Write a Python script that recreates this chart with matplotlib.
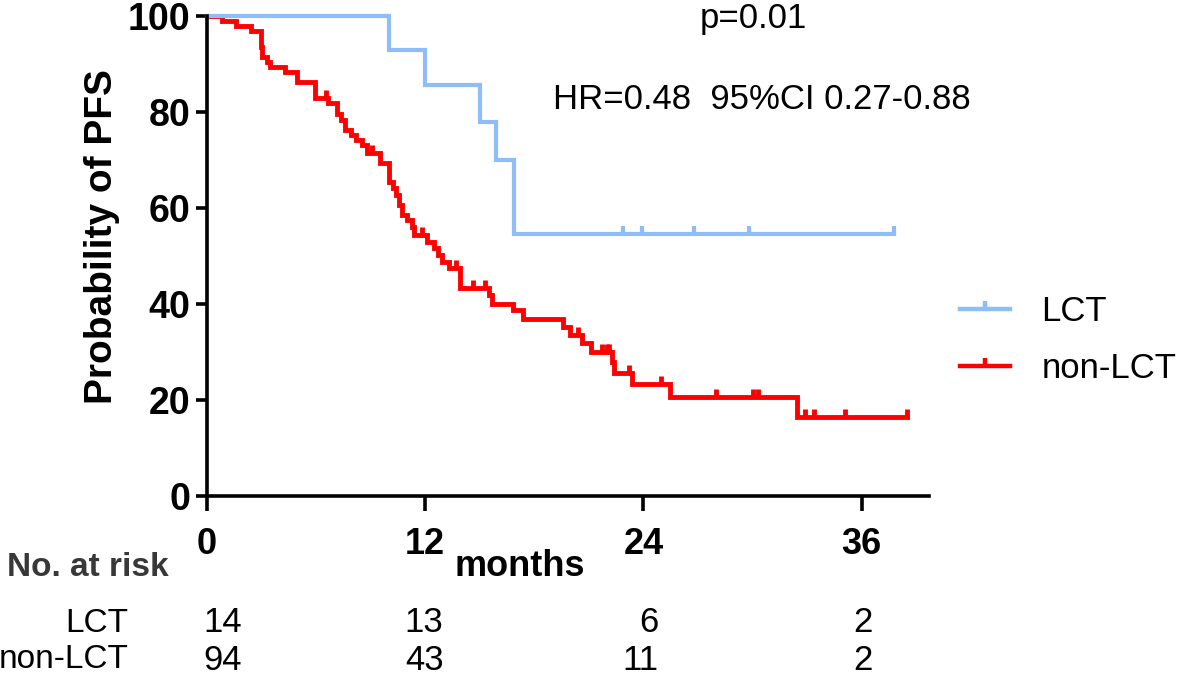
import numpy as np
import matplotlib
matplotlib.use("Agg")
import matplotlib.pyplot as plt
import matplotlib.transforms as mtransforms
from matplotlib.path import Path
from matplotlib.lines import Line2D

plt.rcParams["font.family"] = ["Liberation Sans", "DejaVu Sans"]

# Kaplan-Meier steps (months, % PFS after each event)
lct_event_t = [10.0, 12.0, 15.0, 15.9, 16.9]
lct_surv = [92.9, 85.7, 78.0, 70.1, 54.5]
lct_censor_t = [22.9, 23.9, 26.8, 29.8, 37.8]

non_event_t = [0.8, 1.6, 2.4, 2.95, 3.05, 3.3, 3.46, 4.29, 4.93, 5.94, 6.66,
               7.15, 7.35, 7.6, 7.9, 8.2, 8.5, 8.8, 9.5, 10.0, 10.2, 10.4,
               10.55, 10.7, 11.0, 11.25, 11.4, 12.1, 12.5, 12.7, 12.9, 13.3,
               13.9, 15.5, 15.65, 16.8, 17.4, 19.6, 19.95, 20.6, 21.1, 22.25,
               22.4, 23.35, 25.45, 32.45]
non_surv = [98.9, 97.9, 96.8, 93.6, 91.5, 90.4, 89.4, 88.3, 86.2, 83.0, 81.9,
            79.6, 78.3, 76.3, 75.2, 74.2, 73.1, 71.4, 69.3, 65.5, 64.1, 62.7,
            60.6, 58.5, 57.5, 56.1, 54.4, 53.0, 51.6, 50.2, 48.8, 47.4,
            43.3, 41.9, 40.1, 38.7, 36.9, 35.3, 33.5, 31.8, 30.1, 28.0,
            25.6, 23.3, 20.7, 16.5]
non_censor_t = [6.55, 9.05, 11.8, 13.7, 14.6, 15.3, 20.4, 21.7, 22.0, 22.1,
                23.2, 24.95, 28.0, 30.0, 30.3, 32.9, 33.4, 35.1, 38.5]

groups = ["LCT", "non-LCT"]
colors = ["#8fbdf7", "#ff0000"]
risk_times = [0, 12, 24, 36]
risk_lct = [14, 13, 6, 2]
risk_non = [94, 43, 11, 2]

# small tick that points up from the curve (censor mark)
tick = Path([(0, 0), (0, 1)])


def km_xy(event_t, surv, censor_t):
    x = np.r_[0, event_t, max(censor_t)]
    y = np.r_[100, surv, surv[-1]]
    return x, y


def censor_y(event_t, surv, censor_t):
    levels = np.r_[100, surv]
    idx = np.searchsorted(event_t, censor_t, side="right")
    return levels[idx]


fig = plt.figure(figsize=(11.81, 6.80), dpi=100)
ax = fig.add_axes([0.1753, 0.2706, 0.6113, 0.7059])

curves = [(lct_event_t, lct_surv, lct_censor_t),
          (non_event_t, non_surv, non_censor_t)]
# draw red first so the blue line sits on top at 100 %
for i in [1, 0]:
    et, sv, ct = curves[i]
    x, y = km_xy(et, sv, ct)
    lw = 3.0 if i == 0 else 3.5
    ax.step(x, y, where="post", color=colors[i], lw=lw, clip_on=False,
            solid_joinstyle="miter")
    ax.plot(ct, censor_y(et, sv, ct), ls="none", marker=tick, ms=11,
            mew=lw, color=colors[i], clip_on=False)

ax.set_xlim(0, 39.7)
ax.set_ylim(0, 100)
ax.set_xticks(risk_times)
ax.set_yticks([0, 20, 40, 60, 80, 100])
for s in ["top", "right"]:
    ax.spines[s].set_visible(False)
for s in ["left", "bottom"]:
    ax.spines[s].set_linewidth(2.6)
ax.tick_params(axis="both", width=2.6, direction="out")
ax.tick_params(axis="y", length=8, pad=4)
ax.tick_params(axis="x", length=11, pad=11)
for lab in ax.get_yticklabels():
    lab.set_fontsize(27)
    lab.set_fontweight("bold")
for lab in ax.get_xticklabels():
    lab.set_fontsize(26)
    lab.set_fontweight("bold")

ax.text(27.1, 99.5, "p=0.01", fontsize=25, va="center", ha="left")
ax.text(19.0, 82.5, "HR=0.48  95%CI 0.27-0.88", fontsize=25, va="center",
        ha="left")

fig.text(0.086, 0.652, "Probability of PFS", rotation=90, fontsize=28,
         fontweight="bold", ha="center", va="center")
fig.text(520 / 1181, 1 - 566 / 680, "months", fontsize=26, fontweight="bold",
         ha="center", va="center")

# number at risk table
fig.text(0.006, 1 - 568 / 680, "No. at risk", fontsize=24, fontweight="bold",
         color="#383838", ha="left", va="center")
row_y = [1 - 623 / 680, 1 - 660 / 680]
trans = mtransforms.blended_transform_factory(ax.transData, fig.transFigure)
num_right = [1.9, 13.0, 24.8, 36.6]
for g, yy, counts in zip(groups, row_y, [risk_lct, risk_non]):
    fig.text(0.1085, yy, g, fontsize=24, ha="right", va="center")
    for xr, n in zip(num_right, counts):
        ax.text(xr, yy, str(n), fontsize=25, ha="right", va="center",
                transform=trans)

handles = [Line2D([], [], color=c, lw=3.2, marker=tick, ms=11, mew=3.2,
                  markevery=[1]) for c in colors]
for h in handles:
    h.set_data([0, 0.5, 1], [0, 0, 0])
fig.legend(handles, groups, loc="center left",
           bbox_to_anchor=(960 / 1181, 1 - 340 / 680), frameon=False,
           fontsize=25, handlelength=1.45, handletextpad=0.9,
           labelspacing=0.7, borderpad=0, borderaxespad=0)

fig.savefig("out.png", dpi=100)
